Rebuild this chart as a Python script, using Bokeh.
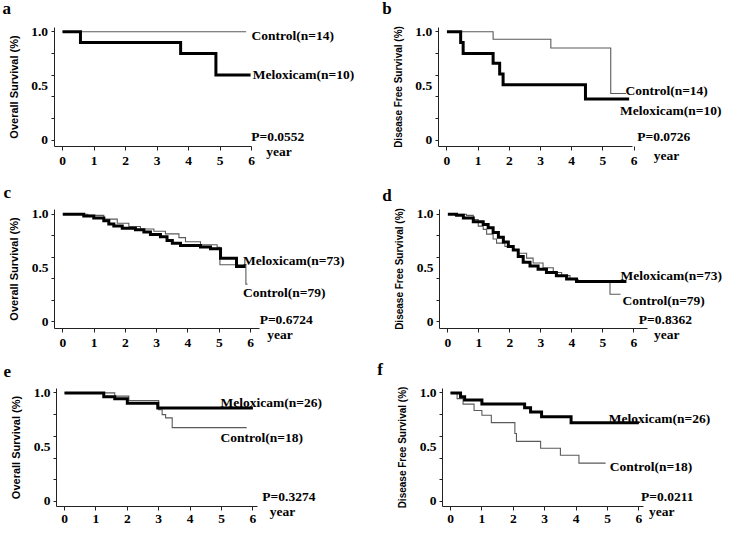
from bokeh.plotting import figure
from bokeh.models import Range1d, FixedTicker, Label
from bokeh.layouts import gridplot
from bokeh.embed import file_html
from bokeh.resources import INLINE

# ---------------- data ----------------
years = [0, 1, 2, 3, 4, 5, 6]
y_ticks = [0, 0.5, 1.0]
y_tick_labels = ["0", "0.5", "1.0"]
y_minor = [0, 0.2, 0.4, 0.6, 0.8, 1.0]

os_label = "Overall Survival (%)"
dfs_label = "Disease Free Survival (%)"

# panel a: overall survival, small cohort
a_ctrl_t = [0, 5.83]
a_ctrl_s = [1.0, 1.0]
a_melo_t = [0, 0.57, 3.75, 4.87, 5.97]
a_melo_s = [1.0, 0.9, 0.8, 0.6, 0.6]
a_texts = ["Control(n=14)", "Meloxicam(n=10)", "P=0.0552"]

# panel b: disease free survival, small cohort
b_ctrl_t = [0, 1.48, 3.33, 5.25, 5.74]
b_ctrl_s = [1.0, 0.93, 0.85, 0.43, 0.43]
b_melo_t = [0, 0.44, 0.52, 1.48, 1.69, 1.8, 4.44, 5.84]
b_melo_s = [1.0, 0.9, 0.8, 0.71, 0.61, 0.51, 0.38, 0.38]
b_texts = ["Control(n=14)", "Meloxicam(n=10)", "P=0.0726"]

# panel c: overall survival, large cohort
c_ctrl_t = [0, 0.8, 1.31, 1.74, 2.11, 2.48, 2.91, 3.28, 3.71, 3.92, 4.4, 4.93, 5.02, 5.85, 5.9]
c_ctrl_s = [1.0, 0.99, 0.955, 0.917, 0.887, 0.863, 0.842, 0.818, 0.783, 0.744, 0.717, 0.694, 0.53, 0.35, 0.35]
c_melo_t = [0, 0.67, 0.99, 1.31, 1.47, 1.63, 1.9, 2.32, 2.59, 2.8, 3.12, 3.33, 3.5, 3.76, 4.4, 4.72, 5.04, 5.55, 5.84]
c_melo_s = [1.0, 0.985, 0.965, 0.94, 0.91, 0.89, 0.87, 0.857, 0.836, 0.813, 0.79, 0.755, 0.73, 0.71, 0.695, 0.68, 0.59, 0.515, 0.515]
c_texts = ["Meloxicam(n=73)", "Control(n=79)", "P=0.6724"]

# panel d: disease free survival, large cohort
d_ctrl_t = [0, 0.6, 0.82, 0.98, 1.14, 1.25, 1.46, 1.57, 1.84, 2.11, 2.27, 2.54, 2.75, 3.07, 3.4, 3.67, 3.94, 4.2, 5.23, 5.57]
d_ctrl_s = [1.0, 0.99, 0.95, 0.89, 0.86, 0.815, 0.77, 0.732, 0.70, 0.667, 0.637, 0.592, 0.547, 0.503, 0.458, 0.429, 0.393, 0.384, 0.256, 0.256]
d_melo_t = [0, 0.28, 0.5, 0.82, 1.14, 1.3, 1.46, 1.63, 1.79, 1.95, 2.11, 2.27, 2.43, 2.65, 2.91, 3.18, 3.5, 3.83, 4.15, 5.76]
d_melo_s = [1.0, 0.99, 0.965, 0.93, 0.905, 0.875, 0.83, 0.786, 0.741, 0.70, 0.667, 0.607, 0.554, 0.518, 0.488, 0.458, 0.429, 0.399, 0.375, 0.375]
d_texts = ["Meloxicam(n=73)", "Control(n=79)", "P=0.8362"]

# panel e: overall survival, subgroup
e_ctrl_t = [0, 1.6, 2.05, 3.0, 3.11, 3.22, 3.43, 5.8]
e_ctrl_s = [1.0, 0.97, 0.93, 0.845, 0.80, 0.77, 0.68, 0.68]
e_melo_t = [0, 1.25, 1.6, 2.0, 2.97, 6.0]
e_melo_s = [1.0, 0.965, 0.945, 0.905, 0.86, 0.86]
e_texts = ["Meloxicam(n=26)", "Control(n=18)", "P=0.3274"]

# panel f: disease free survival, subgroup
f_ctrl_t = [0, 0.21, 0.4, 0.75, 1.0, 1.3, 2.05, 2.1, 2.87, 3.5, 4.09, 4.94]
f_ctrl_s = [1.0, 0.947, 0.897, 0.838, 0.794, 0.726, 0.626, 0.553, 0.49, 0.426, 0.353, 0.353]
f_melo_t = [0, 0.32, 0.45, 1.0, 2.36, 2.55, 2.9, 3.84, 6.0]
f_melo_s = [1.0, 0.965, 0.935, 0.897, 0.862, 0.824, 0.78, 0.725, 0.725]
f_texts = ["Meloxicam(n=26)", "Control(n=18)", "P=0.0211"]

x_unit_text = "year"
letters = ["a", "b", "c", "d", "e", "f"]

# ---------------- styling ----------------
SERIF = "Liberation Serif"
SANS = "Liberation Sans"
TXT = "13.5px"
CTRL_COLOR = "#5a5a5a"
AXIS_COLOR = "#222222"


def make_panel(W, H, L, B, x_start, ppy, y_start, ppu, x_axis_end,
               ylabel, ylabel_size, ctrl_t, ctrl_s, melo_t, melo_s,
               texts, text_pos, letter, letter_px, year_pos, x_standoff=6):
    # the frame covers the whole figure; axes are pinned inside it
    x_lo = x_start - L / ppy
    x_hi = x_lo + W / ppy
    y_hi = y_start + B / ppu
    y_lo = y_hi - H / ppu
    p = figure(width=W, height=H, x_range=Range1d(x_lo, x_hi),
               y_range=Range1d(y_lo, y_hi), output_backend="svg",
               toolbar_location=None, title=None,
               min_border_left=0, min_border_right=0, min_border_top=0,
               min_border_bottom=0)
    p.outline_line_color = None
    p.xgrid.visible = False
    p.ygrid.visible = False
    p.background_fill_color = "white"
    p.border_fill_color = "white"

    # x axis
    xa = p.xaxis[0]
    xa.fixed_location = y_start
    xa.ticker = FixedTicker(ticks=years)
    xa.bounds = (x_start, x_axis_end)
    xa.major_tick_in = 0
    xa.major_tick_out = 4
    xa.minor_tick_in = 0
    xa.minor_tick_out = 0
    xa.major_label_standoff = x_standoff
    xa.major_label_text_font = SERIF
    xa.major_label_text_font_style = "bold"
    xa.major_label_text_font_size = TXT
    xa.major_label_text_color = "black"
    xa.axis_line_color = AXIS_COLOR
    xa.major_tick_line_color = AXIS_COLOR

    # y axis
    ya = p.yaxis[0]
    ya.fixed_location = x_start
    ya.ticker = FixedTicker(ticks=y_ticks, minor_ticks=y_minor)
    ya.major_label_overrides = {t: s for t, s in zip(y_ticks, y_tick_labels)}
    ya.bounds = (y_start, 1.04)
    ya.major_tick_in = 0
    ya.major_tick_out = 0
    ya.minor_tick_in = 0
    ya.minor_tick_out = 3
    ya.minor_tick_line_color = AXIS_COLOR
    ya.major_label_standoff = 3
    ya.major_label_text_font = SERIF
    ya.major_label_text_font_style = "bold"
    ya.major_label_text_font_size = TXT
    ya.major_label_text_color = "black"
    ya.axis_line_color = AXIS_COLOR
    ya.axis_label = ylabel
    ya.axis_label_text_font = SANS
    ya.axis_label_text_font_style = "bold"
    ya.axis_label_text_font_size = ylabel_size
    ya.axis_label_text_color = "black"
    ya.axis_label_standoff = 9

    # survival curves
    p.step(ctrl_t, ctrl_s, mode="after", line_color=CTRL_COLOR, line_width=1.1,
           line_join="miter")
    p.step(melo_t, melo_s, mode="after", line_color="black", line_width=3,
           line_join="miter")

    for t, (tx, ty) in zip(texts, text_pos):
        p.add_layout(Label(x=tx, y=ty, text=t, text_font=SERIF, text_font_style="bold",
                           text_font_size=TXT, text_color="black",
                           text_baseline="middle", text_align="left"))
    p.add_layout(Label(x=year_pos[0], y=year_pos[1], text=x_unit_text, text_font=SERIF,
                       text_font_style="bold", text_font_size=TXT, text_color="black",
                       text_baseline="middle", text_align="left"))
    lx = x_lo + letter_px[0] / ppy
    ly = y_hi - letter_px[1] / ppu
    p.add_layout(Label(x=lx, y=ly, text=letter, text_font=SERIF,
                       text_font_style="bold", text_font_size="17px", text_color="black",
                       text_baseline="middle", text_align="left"))
    return p


WL, WR = 360, 362
H1, H2, H3 = 170, 180, 177

pa = make_panel(WL, H1, 53.5, 146, -0.27, 31.5, -0.058, 108.5, 6.0,
                os_label, "11px", a_ctrl_t, a_ctrl_s, a_melo_t, a_melo_s,
                a_texts, [(6.0, 0.965), (6.04, 0.603), (5.99, 0.03)],
                letters[0], (2, 8), (6.47, -0.104))
pb = make_panel(WR, H1, 77.7, 146, -0.28, 31.2, -0.058, 108.5, 5.95,
                dfs_label, "10px", b_ctrl_t, b_ctrl_s, b_melo_t, b_melo_s,
                b_texts, [(5.72, 0.462), (5.55, 0.276), (6.1, 0.034)],
                letters[1], (21.7, 8), (6.63, -0.143))
pc = make_panel(WL, H2, 54, 158, -0.265, 31.3, -0.0625, 107.5, 6.3,
                os_label, "11px", c_ctrl_t, c_ctrl_s, c_melo_t, c_melo_s,
                c_texts, [(5.76, 0.574), (5.76, 0.268), (6.29, 0.018)],
                letters[2], (3, 21.5), (6.53, -0.119))
pd = make_panel(WR, H2, 79, 158, -0.27, 31.0, -0.0625, 107.5, 6.45,
                dfs_label, "10px", d_ctrl_t, d_ctrl_s, d_melo_t, d_melo_s,
                d_texts, [(5.57, 0.431), (5.63, 0.2), (6.16, 0.024)],
                letters[3], (21.7, 24.8), (6.65, -0.119))
pe = make_panel(WL, H3, 56, 156, -0.255, 31.4, -0.047, 108.5, 6.15,
                os_label, "11px", e_ctrl_t, e_ctrl_s, e_melo_t, e_melo_s,
                e_texts, [(4.97, 0.913), (4.97, 0.589), (6.3, 0.044)],
                letters[4], (3, 20.8), (6.54, -0.097), x_standoff=4)
pf = make_panel(WR, H3, 82, 156, -0.255, 31.4, -0.047, 108.5, 6.15,
                dfs_label, "10px", f_ctrl_t, f_ctrl_s, f_melo_t, f_melo_s,
                f_texts, [(5.04, 0.765), (5.07, 0.324), (6.07, 0.044)],
                letters[5], (16.7, 19), (6.32, -0.097), x_standoff=4)

grid = gridplot([[pa, pb], [pc, pd], [pe, pf]], toolbar_location=None)

open("out.html", "w").write(file_html(grid, INLINE))
